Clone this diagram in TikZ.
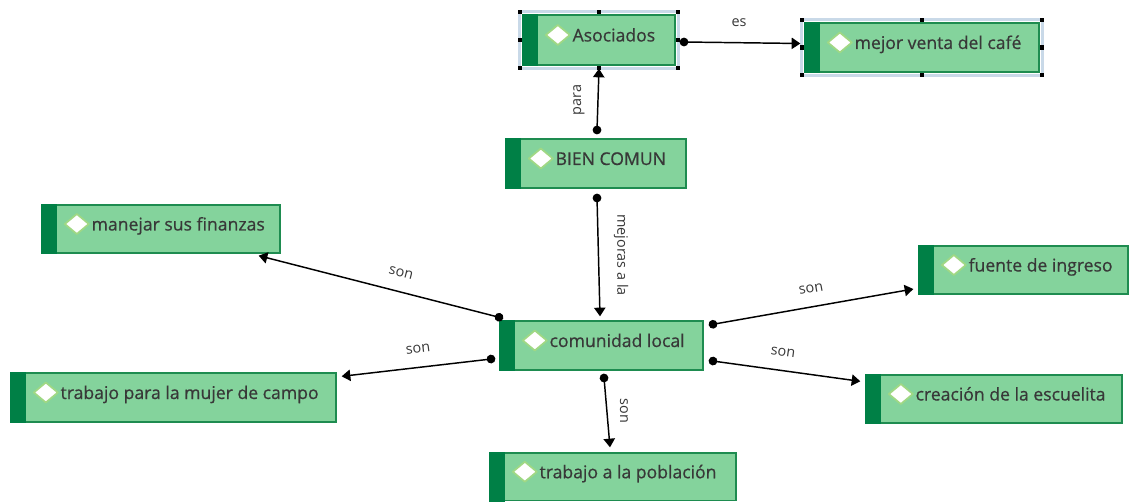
\documentclass[tikz,border=0pt]{standalone}
\usepackage{fontspec}
\setmainfont{Open Sans}
\newfontfamily\ctextfont{Open Sans}[FakeBold=0.6]
\usetikzlibrary{arrows.meta}
\definecolor{boxfill}{HTML}{84D39C}
\definecolor{boxline}{HTML}{1E8C50}
\definecolor{stripc}{HTML}{008046}
\definecolor{diamline}{HTML}{A0D884}
\definecolor{textc}{HTML}{383838}
\definecolor{selc}{HTML}{C9D9E8}
\tikzset{
  cbox/.style={draw=boxline, fill=boxfill, line width=1pt, rectangle, inner sep=0pt},
  stripfill/.style={fill=stripc},
  diamshape/.style={draw=diamline, fill=white, line width=1.3pt, line join=round},
  ctext/.style={inner sep=0pt, font=\ctextfont\fontsize{13.2}{15}\selectfont, text=textc},
  lbl/.style={inner sep=0pt, font=\fontsize{10.8}{12}\selectfont, text=textc},
  conn/.style={line width=1.1pt, draw=black, shorten <=-3pt, {Circle[length=6.5pt]}-{Triangle[length=6.5pt,width=8.5pt]}},
  selframe/.style={draw=selc, line width=2.4pt},
  handle/.style={fill=black}
}
\newcommand\conceptbox[6]{%
  \node[cbox, minimum width={(#4-#2)*0.75pt}, minimum height={(#5-#3)*0.75pt}] (#1) at ({(#2+#4)/2},{(#3+#5)/2}) {};
  \fill[stripfill] ([shift={(-0.5,-0.5)}]#1.north west) rectangle ([shift={(16,0.5)}]#1.south west);
  \coordinate (#1-d) at ([shift={(35.5,-5)}]#1.west);
  \draw[diamshape] ([shift={(-12,0)}]#1-d) -- ([shift={(0,-10)}]#1-d) -- ([shift={(12,0)}]#1-d) -- ([shift={(0,10)}]#1-d) -- cycle;
  \node[ctext, anchor=base west] (#1-t) at ([shift={(50,1.5)}]#1.west) {#6};
}
\newcommand\selhandles[1]{%
  \draw[selframe] ([shift={(-2.5,-2.5)}]#1.north west) rectangle ([shift={(2.5,2.5)}]#1.south east);
  \foreach \a/\dx/\dy in {north west/-2.5/-2.5, north/0/-2.5, north east/2.5/-2.5, east/2.5/0, south east/2.5/2.5, south/0/2.5, south west/-2.5/2.5, west/-2.5/0}{
    \fill[handle] ([shift={(\dx-2.2,\dy-2.2)}]#1.\a) rectangle ([shift={(\dx+2.2,\dy+2.2)}]#1.\a);
  }
}
\begin{document}
\begin{tikzpicture}[x=0.75pt,y=-0.75pt]
\fill[white] (0,0) rectangle (1130,502);
\useasboundingbox (0,0) rectangle (1130,502);
\conceptbox{asoc}{523}{15}{675}{65}{Asociados}
\conceptbox{mejor}{805}{23}{1039}{72}{mejor venta del café}
\conceptbox{bien}{506}{139}{686}{188}{BIEN COMUN}
\conceptbox{manejar}{42}{205}{280}{253}{manejar sus finanzas}
\conceptbox{fuente}{919}{246}{1128}{294}{fuente de ingreso}
\conceptbox{comun}{500}{321}{703}{370}{comunidad local}
\conceptbox{mujer}{11}{373}{336}{422}{trabajo para la mujer de campo}
\conceptbox{creacion}{866}{375}{1122}{423}{creación de la escuelita}
\conceptbox{poblacion}{490}{453}{736}{500.5}{trabajo a la población}
\selhandles{asoc}
\selhandles{mejor}
% connectors
\draw[conn] ([shift={(8,2)}]asoc.east) -- ([shift={(-4,-4)}]mejor.west);
\draw[conn] ([shift={(1,-8)}]bien.north) -- ([shift={(0,3)}]asoc.south);
\draw[conn] ([shift={(1,9)}]bien.south) -- ([shift={(-1.5,-4)}]comun.north);
\draw[conn] ([shift={(0,-3)}]comun.north west) -- ([shift={(-22,2)}]manejar.south east);
\draw[conn] ([shift={(-8,13.5)}]comun.west) -- ([shift={(5,4)}]mujer.north east);
\draw[conn] ([shift={(9,4)}]comun.north east) -- ([shift={(-5,19)}]fuente.west);
\draw[conn] ([shift={(9,15.5)}]comun.east) -- ([shift={(-5,7)}]creacion.north west);
\draw[conn] ([shift={(2.5,7)}]comun.south) -- ([shift={(-3,-5)}]poblacion.north);
% labels
\node[lbl] (l-es) at (739,23) {es};
\node[lbl, rotate=90] (l-para) at (579,100) {para};
\node[lbl, rotate=-90] (l-mej) at (621,255) {mejoras a la};
\node[lbl, rotate=-14.6] (l-son1) at (401,273) {son};
\node[lbl, rotate=6.8] (l-son2) at (418,349) {son};
\node[lbl, rotate=10.1] (l-son3) at (811,289) {son};
\node[lbl, rotate=-8] (l-son4) at (783,352) {son};
\node[lbl, rotate=-90] (l-son5) at (624,411) {son};
\end{tikzpicture}
\end{document}
